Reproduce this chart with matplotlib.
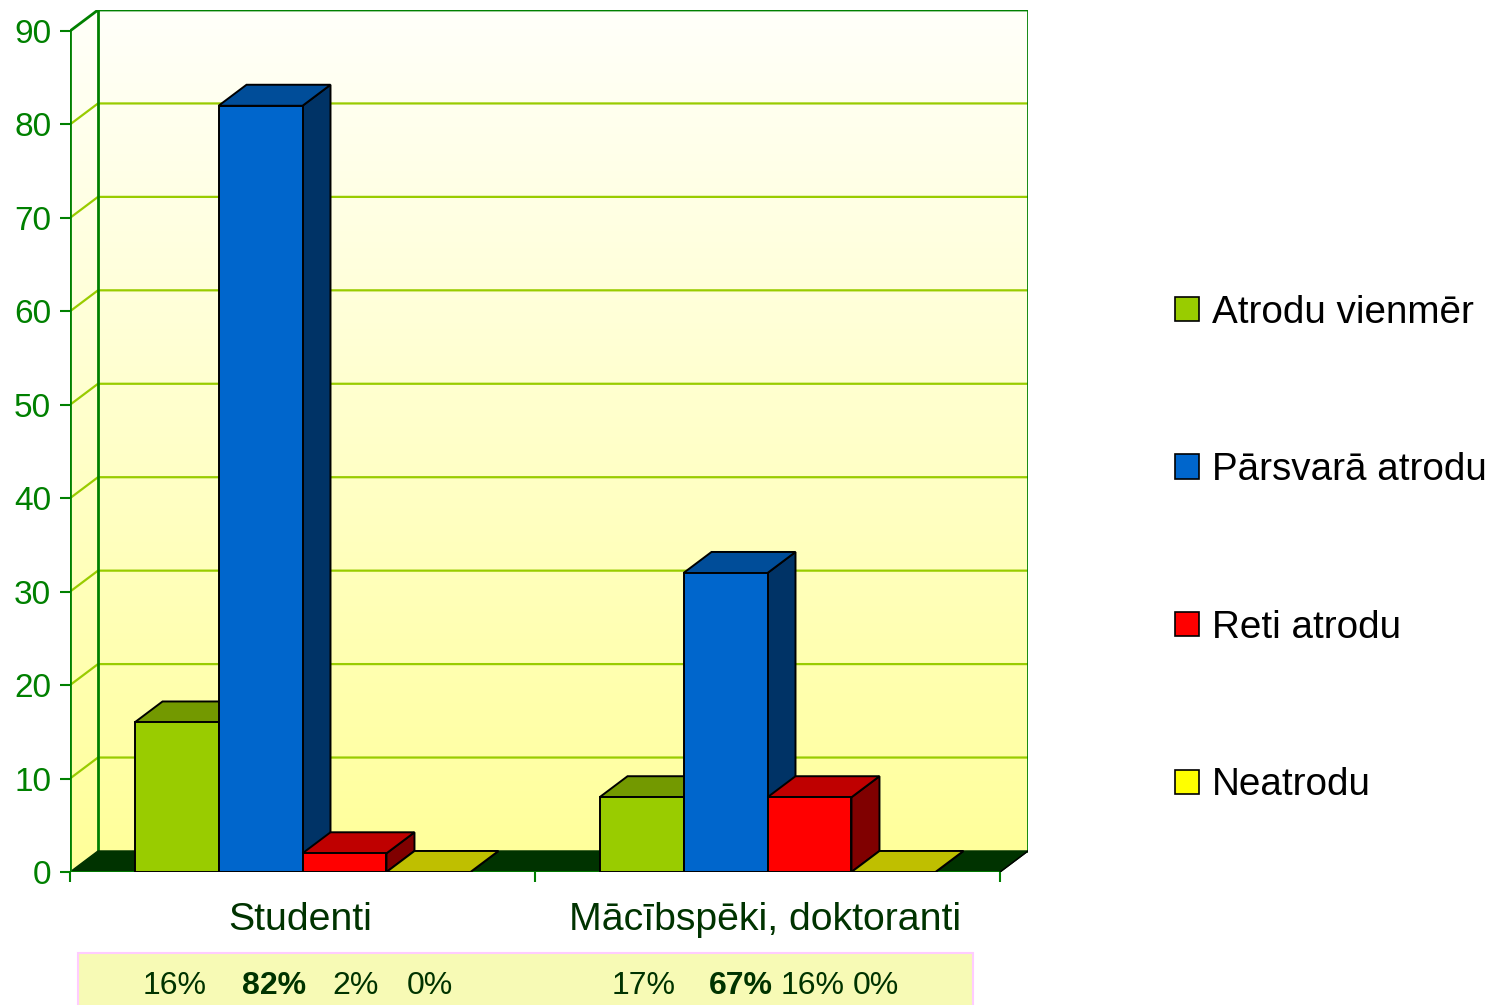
import matplotlib

matplotlib.use("Agg")
import matplotlib.pyplot as plt
import numpy as np
from matplotlib.patches import Patch, Polygon, Rectangle
from matplotlib.colors import to_rgb

plt.rcParams["font.family"] = ["Liberation Sans", "DejaVu Sans"]

# ─── Data ─────────────────────────────────────────────────────────────
categories = ["Studenti", "Mācībspēki, doktoranti"]
series = ["Atrodu vienmēr", "Pārsvarā atrodu", "Reti atrodu", "Neatrodu"]
values = {
    "Atrodu vienmēr": [16, 8],
    "Pārsvarā atrodu": [82, 32],
    "Reti atrodu": [2, 8],
    "Neatrodu": [0, 0],
}
pct_labels = [["16%", "82%", "2%", "0%"], ["17%", "67%", "16%", "0%"]]
pct_bold = ["82%", "67%"]
y_ticks = list(range(0, 100, 10))

# ─── Style ────────────────────────────────────────────────────────────
colors = ["#99CC00", "#0066CC", "#FF0000", "#FFFF00"]
AXIS_GREEN = "#008000"
GRID_GREEN = "#99CC00"
DARK_GREEN = "#003300"
BAR_W = 0.1806
DX, DY = 0.0602, 2.25          # depth offset of the 3D box (data units)
YMAX = 90
# label x positions inside the table row (data units along x)
pct_x = [[0.224, 0.438, 0.614, 0.773], [1.234, 1.443, 1.598, 1.732]]


def shade(c, f):
    r, g, b = to_rgb(c)
    return (r * f, g * f, b * f)


fig = plt.figure(figsize=(14.97, 10.05), dpi=100)
ax = fig.add_axes([70 / 1497, 133 / 1005, 958 / 1497, 862 / 1005])
ax.set_xlim(0, 2 + DX)
ax.set_ylim(0, YMAX + DY)
for s in ax.spines.values():
    s.set_visible(False)

# walls with vertical gradient
grad = np.linspace(0, 1, 256)[:, None]
top, bot = np.array([255, 255, 250]) / 255, np.array([255, 255, 153]) / 255
img = top[None, None, :] * (1 - grad[..., None]) + bot[None, None, :] * grad[..., None]
im = ax.imshow(img, extent=[0, 2 + DX, 0, YMAX + DY], aspect="auto",
               origin="upper", zorder=0)
wall = Polygon([(0, 0), (DX, DY), (2 + DX, DY), (2 + DX, YMAX + DY),
                (DX, YMAX + DY), (0, YMAX)], closed=True, transform=ax.transData,
               facecolor="none", edgecolor="none")
ax.add_patch(wall)
im.set_clip_path(wall)

# grid lines
for v in y_ticks[1:-1]:
    ax.plot([0, DX, 2 + DX], [v, v + DY, v + DY], color=GRID_GREEN, lw=1.6, zorder=1)
ax.plot([0, DX, 2 + DX], [YMAX, YMAX + DY, YMAX + DY], color=AXIS_GREEN, lw=2, zorder=1)
ax.plot([DX, DX], [DY, YMAX + DY], color=AXIS_GREEN, lw=2, zorder=1)
ax.plot([2 + DX, 2 + DX], [DY, YMAX + DY], color=AXIS_GREEN, lw=2, zorder=1)

# floor
ax.add_patch(Polygon([(0, 0), (2, 0), (2 + DX, DY), (DX, DY)], closed=True,
                     facecolor=DARK_GREEN, edgecolor=DARK_GREEN, lw=1, zorder=2))
ax.plot([0, 2], [0, 0], color=AXIS_GREEN, lw=2, zorder=2.5)
ax.plot([2, 2 + DX], [0, DY], color="black", lw=1, zorder=2.5)
ax.plot([0, 0], [0, YMAX], color=AXIS_GREEN, lw=2, zorder=5)

# bars
for g in range(len(categories)):
    center = g + 0.5
    for i, name in enumerate(series):
        v = values[name][g]
        x0 = center - 2 * BAR_W + i * BAR_W
        x1 = x0 + BAR_W
        c = colors[i]
        z = 3 + g * 0.1 + i * 0.01
        kw = dict(edgecolor="black", lw=1.4, joinstyle="miter", zorder=z)
        ax.add_patch(Polygon([(x1, 0), (x1 + DX, DY), (x1 + DX, v + DY), (x1, v)],
                             facecolor=shade(c, 0.5), **kw))
        ax.add_patch(Polygon([(x0, v), (x1, v), (x1 + DX, v + DY), (x0 + DX, v + DY)],
                             facecolor=shade(c, 0.75), **kw))
        if v > 0:
            ax.add_patch(Rectangle((x0, 0), BAR_W, v, facecolor=c, **kw))

# axes ticks
ax.set_yticks(y_ticks)
ax.set_xticks([0, 1, 2])
ax.set_xticklabels([])
ax.tick_params(axis="y", colors=AXIS_GREEN, labelsize=24, length=7.5, width=1.5, pad=6)
ax.tick_params(axis="x", colors=AXIS_GREEN, length=7.5, width=1.5)

for g, cat in enumerate(categories):
    ax.text(g + 0.5 - 0.005, -5.1, cat, ha="center", va="center", fontsize=28.3,
            color=DARK_GREEN, clip_on=False)

# percentage row
ax.add_patch(Rectangle((0.017, -17), 1.925, 8.3, facecolor="#F7FAB5",
                       edgecolor="#FFCCFF", lw=1.5, clip_on=False, zorder=1))
for g in range(len(categories)):
    for lab, x in zip(pct_labels[g], pct_x[g]):
        ax.text(x, -12.2, lab, ha="center", va="center", fontsize=23,
                color=DARK_GREEN, clip_on=False,
                fontweight="bold" if lab in pct_bold else "normal")

handles = [Patch(facecolor=c, edgecolor="black", lw=1.2) for c in colors]
fig.legend(handles, series, loc="center left",
           bbox_to_anchor=(1160 / 1497, (1005 - 549) / 1005),
           frameon=False, fontsize=27.8, handlelength=0.6, handleheight=0.6,
           handletextpad=0.35, labelspacing=3.15, borderaxespad=0)

fig.savefig("out.png", dpi=100)
